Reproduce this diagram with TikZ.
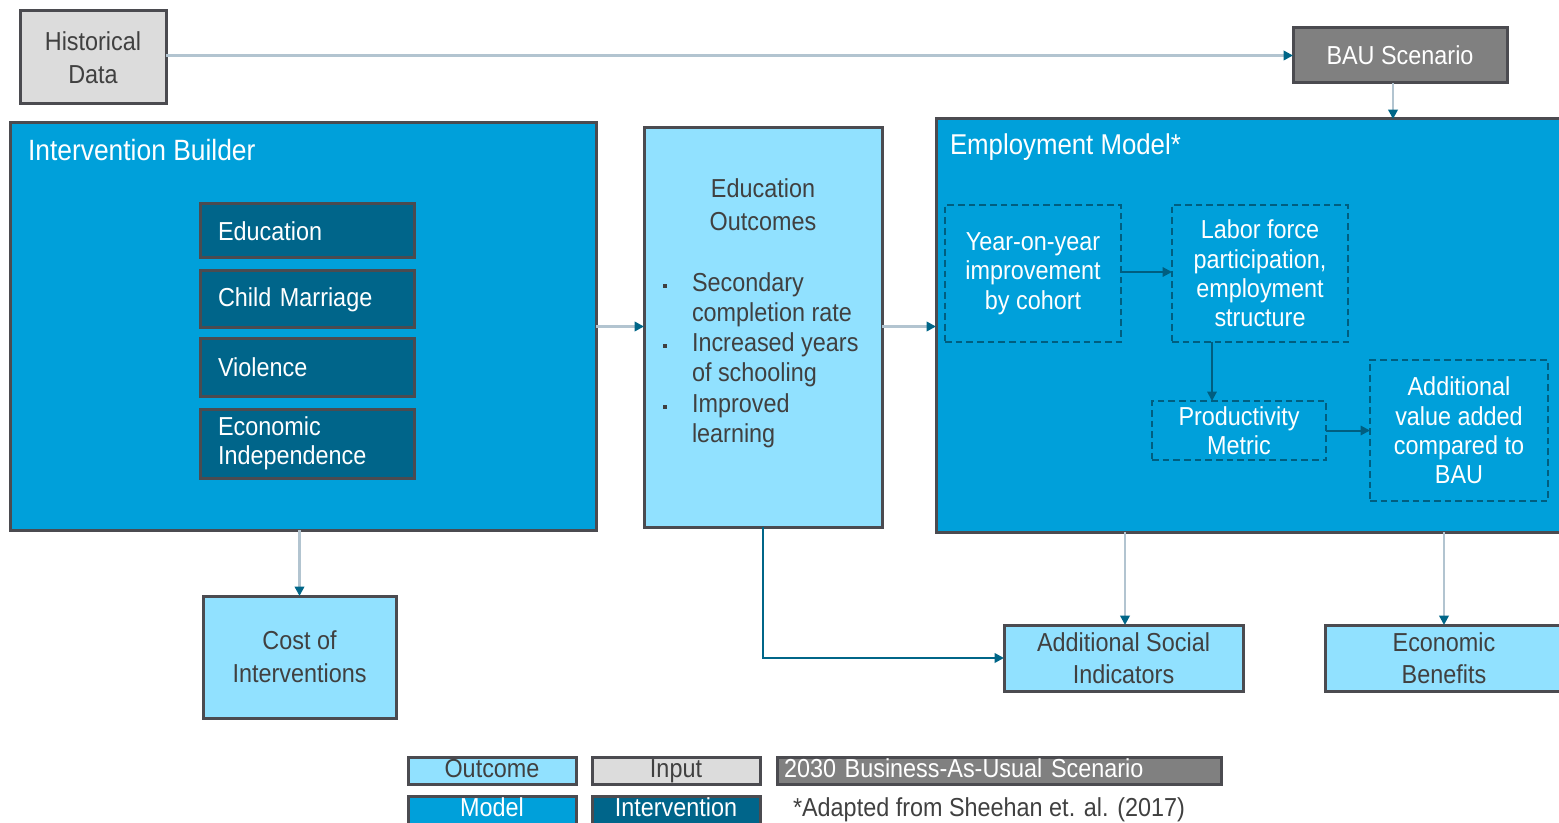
\documentclass[tikz,border=0pt]{standalone}
\usepackage{fontspec}
\setmainfont{Liberation Sans}[FakeStretch=0.9]
\usetikzlibrary{arrows.meta,calc}
\definecolor{modelblue}{HTML}{00A0DA}
\definecolor{outlight}{HTML}{91E1FF}
\definecolor{intdark}{HTML}{00658A}
\definecolor{edgegray}{HTML}{4B4B50}
\definecolor{inputgray}{HTML}{DCDCDC}
\definecolor{baugray}{HTML}{808080}
\definecolor{txtgray}{HTML}{404040}
\definecolor{connlight}{HTML}{B2C4D0}
\definecolor{tipdark}{HTML}{006688}
\definecolor{dashdark}{HTML}{005E80}
\begin{document}
\begin{tikzpicture}[x=0.75pt,y=-0.75pt,
  every node/.style={inner sep=0pt, outer sep=0pt},
  bx/.style 2 args={minimum width=#1*0.75pt, minimum height=#2*0.75pt},
  solidbox/.style={draw=edgegray, line width=2.25pt, font=\fontsize{19.5}{24.75}\selectfont, align=center},
  inputbox/.style={solidbox, fill=inputgray, text=txtgray},
  baubox/.style={solidbox, fill=baugray, text=white},
  modelbox/.style={solidbox, fill=modelblue, text=white},
  outbox/.style={solidbox, fill=outlight, text=txtgray},
  intbox/.style={solidbox, fill=intdark, text=white, align=left, text width=178*0.75pt, inner xsep=18*0.75pt},
  dbox/.style={draw=dashdark, line width=1.5pt, dash pattern=on 5pt off 3pt, text=white, align=center, font=\fontsize{19.5}{22}\selectfont},
  titletext/.style={text=white, anchor=west},
  bullettext/.style={text=txtgray, anchor=north west, align=left, font=\fontsize{19.5}{22.5}\selectfont},
  bul/.style={fill=txtgray, minimum size=3.5pt},
  conn/.style={draw=connlight, line width=1.8pt, -{Triangle[length=7pt, width=7pt, color=tipdark]}},
  inconn/.style={draw=dashdark, line width=1.5pt, -{Triangle[length=7pt, width=7pt, color=dashdark]}},
  darkconn/.style={draw=tipdark, line width=2pt, -{Triangle[length=7pt, width=7pt, color=tipdark]}},
  legtext/.style={font=\fontsize{19.5}{24}\selectfont, text height=14pt, text depth=4pt}
]
\useasboundingbox (0,0) rectangle (1559,823);
\clip (0,0) rectangle (1559,823);

% top row
\node[inputbox, bx={146}{93}] (hist) at (93,57.5) {Historical\\Data};
\node[baubox, bx={214}{55}] (bau) at (1400,55.5) {BAU Scenario};

% intervention builder
\node[modelbox, bx={586}{407}] (ib) at (303,326.5) {};
\node[titletext, font=\fontsize{22}{26}\selectfont] (ibtitle) at (28,150) {Intervention Builder};
\node[intbox, bx={214}{54}] (edu) at (307,231) {Education};
\node[intbox, bx={214}{57}] (cm) at (307,299.5) {Child Marriage};
\node[intbox, bx={214}{57}] (vio) at (307,367.5) {Violence};
\node[intbox, bx={214}{69}, font=\fontsize{19.5}{22}\selectfont] (ei) at (307,443.5) {Economic\\Independence};

% education outcomes
\node[outbox, bx={238}{399}] (eo) at (763,327.5) {};
\node[text=txtgray, align=center, font=\fontsize{19.5}{24.75}\selectfont] (eotitle) at (763,205) {Education\\Outcomes};
\node[bul] (b1) at (665,286) {};
\node[bul] (b2) at (665,346) {};
\node[bul] (b3) at (665,407) {};
\node[bullettext] (t1) at (692,273) {Secondary\\completion rate};
\node[bullettext] (t2) at (692,333) {Increased years\\of schooling};
\node[bullettext] (t3) at (692,394) {Improved\\learning};

% employment model
\node[modelbox, bx={627}{413}] (em) at (1249.5,325.5) {};
\node[titletext, font=\fontsize{21.5}{26}\selectfont] (emtitle) at (950,147) {Employment Model*};
\node[dbox, bx={176}{137}] (yoy) at (1033,273.5) {Year-on-year\\improvement\\by cohort};
\node[dbox, bx={176}{137}] (lab) at (1260,273.5) {Labor force\\participation,\\employment\\structure};
\node[dbox, bx={174}{59}] (prod) at (1239,430.5) {Productivity\\Metric};
\node[dbox, bx={178}{141}] (addv) at (1459,430.5) {Additional\\value added\\compared to\\BAU};

% outputs
\node[outbox, bx={193}{122}] (cost) at (299.5,657) {Cost of\\Interventions};
\node[outbox, bx={239}{66}, font=\fontsize{19.5}{24}\selectfont] (asi) at (1123.5,658) {Additional Social\\Indicators};
\node[outbox, bx={238}{66}, font=\fontsize{19.5}{24}\selectfont] (eb) at (1444,658) {Economic\\Benefits};

% legend
\node[outbox, legtext, bx={168}{27}] (lgout) at (492,770.5) {Outcome};
\node[inputbox, legtext, bx={168}{27}] (lgin) at (676,770.5) {Input};
\node[baubox, legtext, bx={444}{27}, align=left, text width=430*0.75pt] (lgbau) at (999,770.5) {2030 Business-As-Usual Scenario};
\node[modelbox, legtext, bx={168}{28}] (lgmodel) at (492,810) {Model};
\node[solidbox, fill=intdark, text=white, legtext, bx={168}{28}] (lgint) at (676,810) {Intervention};
\node[anchor=west, text=txtgray, legtext] (note) at (793,810) {*Adapted from Sheehan et. al. (2017)};

% connectors
\draw[conn] (hist.east |- bau.west) -- (bau.west);
\draw[conn] ($(bau.south)+(-7,0)$) -- ($(bau.south |- em.north)+(-7,0)$);
\draw[conn] (ib.east) -- (eo.west |- ib.east);
\draw[conn] (eo.east |- ib.east) -- (em.west |- ib.east);
\draw[conn] (cost.north |- ib.south) -- (cost.north);
\draw[conn] ($(asi.north |- em.south)+(1.5,0)$) -- ($(asi.north)+(1.5,0)$);
\draw[conn] (eb.north |- em.south) -- (eb.north);
\draw[darkconn] (eo.south) |- (asi.west);
\draw[inconn] ($(yoy.east)+(0,-1.5)$) -- ($(lab.west)+(0,-1.5)$);
\draw[inconn] ($(lab.south)+(-48,0)$) -- ($(lab.south |- prod.north)+(-48,0)$);
\draw[inconn] (prod.east) -- (addv.west |- prod.east);
\end{tikzpicture}
\end{document}
